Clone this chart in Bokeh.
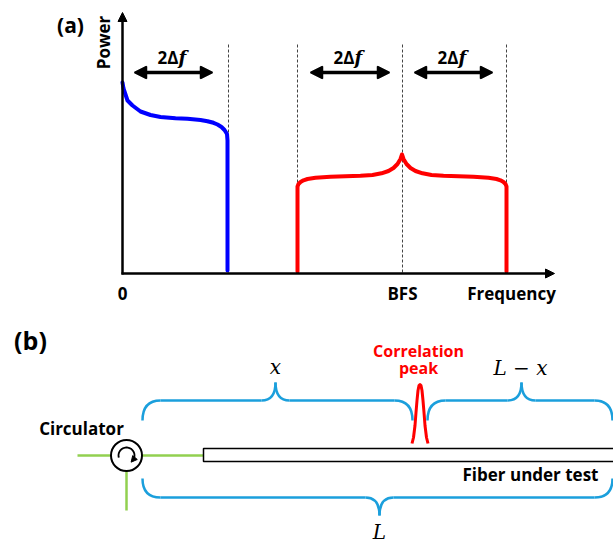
import numpy as np
from bokeh.plotting import figure
from bokeh.models import Range1d, Arrow, NormalHead
from bokeh.core.properties import value
from bokeh.embed import file_html
from bokeh.resources import INLINE

# ---------------- data (pixel-space coordinates) -------------
# panel (a): pump / probe spectra
blue_x = [122, 123, 125, 127, 132, 140, 150, 160, 175, 187, 200, 207, 213, 217, 221, 224, 226.5, 227, 227]
blue_y = [82, 88, 94, 100, 105, 111, 114.5, 116.5, 117.8, 118.3, 119.5, 120.7, 122.3, 124, 126.5, 129.5, 133.5, 140, 270]
red_x = [297, 297, 298, 300, 303, 307, 315, 330, 345, 360, 372, 381, 388, 393, 397, 400, 401.5,
         403, 406, 410, 415, 422, 431, 443, 458, 473, 488, 496, 500, 503, 505, 506, 506]
red_y = [271, 186, 183.5, 181.5, 179.8, 178.5, 177.3, 176.3, 175.8, 175.3, 174.5, 172.8, 170.5, 167.5, 163.5, 158.5, 154,
         158.5, 163.5, 167.5, 170.5, 172.8, 174.5, 175.3, 175.8, 176.3, 177.3, 178.5, 179.8, 181.5, 183.5, 186, 271]
dash_x = [228, 297, 402, 506]
span_x0 = [128, 304, 408]
span_x1 = [218, 395, 498]
span_lbl_x = [173, 349, 453]
tick_labels = ["0", "BFS", "Frequency"]
tick_x = [122, 402, 511]

# panel (b): correlation peak along the fibre
peak_x = [411.5, 413, 414.5, 415.5, 416.5, 417.5, 418.5, 419.5, 420.5, 421.5, 422.5, 423.5, 424.5, 426, 427.5]
peak_y = [443, 437, 425, 412, 400, 390, 385, 384, 385, 390, 400, 412, 425, 437, 443]
# braces: (left end x, right end x, end y, line y, tip x, tip y)
braces = [
    (142, 412, 420, 400, 275, 382),
    (427, 612, 420, 400, 521, 382),
    (142, 612, 478, 497, 379, 515),
]
brace_labels = ["x", "L − x", "L"]
brace_lbl_xy = [(275, 366), (520, 367), (379, 531)]

W, H = 613, 544
p = figure(width=W, height=H, x_range=Range1d(0, W), y_range=Range1d(H, 0),
           output_backend="svg", toolbar_location=None, min_border=0,
           x_axis_type=None, y_axis_type=None)
p.grid.visible = False
p.outline_line_color = None
p.background_fill_color = "white"

BOLD = value("Open Sans")
SERIF = value("DejaVu Serif")

# ---------------- panel (a) ----------------
p.segment(x0=dash_x, y0=[44] * 4, x1=dash_x, y1=[273] * 4,
          line_color="#444444", line_width=1, line_dash="3 2")
p.add_layout(Arrow(x_start=122, y_start=274, x_end=122, y_end=12, line_width=2.5, line_color="black",
                   end=NormalHead(size=9, fill_color="black", line_color="black")))
p.add_layout(Arrow(x_start=121, y_start=273, x_end=554, y_end=273, line_width=2.5, line_color="black",
                   end=NormalHead(size=9, fill_color="black", line_color="black")))
p.line(blue_x, blue_y, line_color="#0000ff", line_width=4, line_join="round", line_cap="round")
p.line(red_x, red_y, line_color="#ff0000", line_width=4, line_join="round", line_cap="round")
for a, b in zip(span_x0, span_x1):
    p.add_layout(Arrow(x_start=a + 6, y_start=72, x_end=b - 6, y_end=72, line_width=3.5, line_color="black",
                       start=NormalHead(size=12, fill_color="black", line_color="black", line_width=1.5),
                       end=NormalHead(size=12, fill_color="black", line_color="black", line_width=1.5)))
p.text(x=[c + 5 for c in span_lbl_x], y=[57] * 3, text=["2Δ"] * 3, text_font=BOLD, text_font_style="bold",
       text_font_size="17px", text_align="right", text_baseline="middle", text_color="black")
p.text(x=[c + 5 for c in span_lbl_x], y=[57] * 3, text=["f"] * 3, text_font=SERIF, text_font_style="bold italic",
       text_font_size="18px", text_align="left", text_baseline="middle", text_color="black")
p.text(x=tick_x, y=[293] * 3, text=tick_labels, text_font=BOLD, text_font_style="bold",
       text_font_size="17px", text_align="center", text_baseline="middle", text_color="black")
p.text(x=[103], y=[42], text=["Power"], angle=[np.pi / 2], text_font=BOLD, text_font_style="bold",
       text_font_size="17px", text_align="center", text_baseline="middle", text_color="black")
p.text(x=[70], y=[24], text=["(a)"], text_font=BOLD, text_font_style="bold",
       text_font_size="21px", text_align="center", text_baseline="middle", text_color="black")

# ---------------- panel (b) ----------------
p.text(x=[30], y=[339], text=["(b)"], text_font=BOLD, text_font_style="bold",
       text_font_size="25px", text_align="center", text_baseline="middle", text_color="black")
GREEN = "#92d050"
p.segment(x0=[77, 141, 126], y0=[455, 455, 470], x1=[111, 204, 126], y1=[455, 455, 510],
          line_color=GREEN, line_width=2.5)
p.scatter(x=[126], y=[455], size=31, marker="circle", fill_color="white", line_color="black", line_width=2)
th = np.radians(np.linspace(195, -40, 40))
r = 8
ax_ = 126 + r * np.cos(th)
ay_ = 455 - r * np.sin(th)
p.line(ax_, ay_, line_color="black", line_width=1.8)
p.add_layout(Arrow(x_start=ax_[-3], y_start=ay_[-3], x_end=ax_[-1] - 1.5, y_end=ay_[-1] + 1.5, line_width=1.5,
                   line_color="black", end=NormalHead(size=6, fill_color="black", line_color="black")))
p.quad(left=[203], right=[625], top=[448], bottom=[461], fill_color="white", line_color="black", line_width=1.5)
p.text(x=[81], y=[428], text=["Circulator"], text_font=BOLD, text_font_style="bold",
       text_font_size="17px", text_align="center", text_baseline="middle", text_color="black")
p.text(x=[530], y=[474], text=["Fiber under test"], text_font=BOLD, text_font_style="bold",
       text_font_size="17px", text_align="center", text_baseline="middle", text_color="black")
p.line(peak_x, peak_y, line_color="#ff0000", line_width=3, line_join="round")
p.text(x=[418, 418], y=[350, 367], text=["Correlation", "peak"], text_font=BOLD, text_font_style="bold",
       text_font_size="16px", text_align="center", text_baseline="middle", text_color="#ff0000")

BLUE = "#1b9fdc"
qx0, qy0, qx1, qy1, qcx, qcy = [], [], [], [], [], []
sx0, sy0, sx1, sy1 = [], [], [], []
for (x0, x1, ye, yl, xt, yt) in braces:
    rh = 18
    rt = 14
    qx0 += [x0]; qy0 += [ye]; qx1 += [x0 + rh]; qy1 += [yl]; qcx += [x0]; qcy += [yl]
    sx0 += [x0 + rh]; sy0 += [yl]; sx1 += [xt - rt]; sy1 += [yl]
    qx0 += [xt - rt]; qy0 += [yl]; qx1 += [xt]; qy1 += [yt]; qcx += [xt]; qcy += [yl]
    qx0 += [xt]; qy0 += [yt]; qx1 += [xt + rt]; qy1 += [yl]; qcx += [xt]; qcy += [yl]
    sx0 += [xt + rt]; sy0 += [yl]; sx1 += [x1 - rh]; sy1 += [yl]
    qx0 += [x1 - rh]; qy0 += [yl]; qx1 += [x1]; qy1 += [ye]; qcx += [x1]; qcy += [yl]
p.quadratic(x0=qx0, y0=qy0, x1=qx1, y1=qy1, cx=qcx, cy=qcy, line_color=BLUE, line_width=2.5)
p.segment(x0=sx0, y0=sy0, x1=sx1, y1=sy1, line_color=BLUE, line_width=2.5)
p.text(x=[a for a, b in brace_lbl_xy], y=[b for a, b in brace_lbl_xy], text=brace_labels, text_font=SERIF,
       text_font_style="italic", text_font_size="20px", text_align="center", text_baseline="middle",
       text_color="black")

open("out.html", "w").write(file_html(p, INLINE))
